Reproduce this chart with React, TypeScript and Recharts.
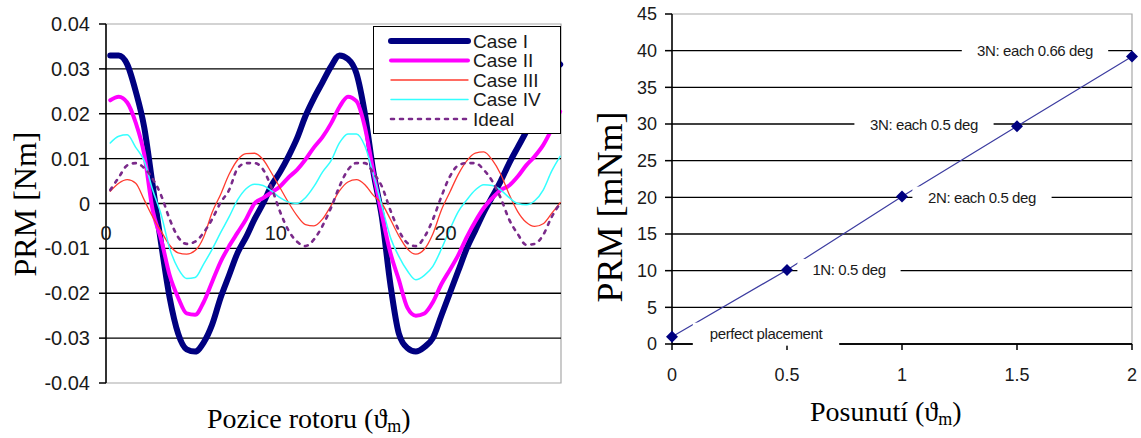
import { LabelList, Line, LineChart, ReferenceArea, ReferenceDot, ReferenceLine, XAxis, YAxis } from 'recharts'

const SANS = "'Liberation Sans', Arial, sans-serif"
const SERIF = "'Liberation Serif', 'Times New Roman', serif"

// left chart: PRM over rotor position
const ROTOR_POS = [
  0.25, 0.75, 1.25, 1.75, 2.25, 2.75, 3.25, 3.75, 4.25, 4.75,
  5.25, 5.75, 6.25, 6.75, 7.25, 7.75, 8.25, 8.75, 9.25, 9.75,
  10.25, 10.75, 11.25, 11.75, 12.25, 12.75, 13.25, 13.75, 14.25, 14.75,
  15.25, 15.75, 16.25, 16.75, 17.25, 17.75, 18.25, 18.75, 19.25, 19.75,
  20.25, 20.75, 21.25, 21.75, 22.25, 22.75, 23.25, 23.75, 24.25, 24.75,
  25.25, 25.75, 26.25, 26.75,
]

const CASE_I = [
  0.033, 0.033, 0.031, 0.025, 0.017, 0.004, -0.009, -0.021, -0.029, -0.0325,
  -0.033, -0.031, -0.027, -0.021, -0.016, -0.011, -0.0075, -0.0035, 0, 0.004,
  0.007, 0.0105, 0.0145, 0.0195, 0.0235, 0.027, 0.0305, 0.033, 0.0322, 0.029,
  0.02, 0.007, -0.003, -0.018, -0.029, -0.0322, -0.033, -0.032, -0.03, -0.025,
  -0.02, -0.015, -0.01, -0.006, -0.002, 0.0015, 0.005, 0.009, 0.0125, 0.016,
  0.02, 0.025, 0.029, 0.031,
]

const CASE_II = [
  0.023, 0.0238, 0.0225, 0.018, 0.011, -0.0015, -0.008, -0.016, -0.021, -0.0245,
  -0.0248, -0.022, -0.0175, -0.013, -0.0095, -0.0065, -0.0035, 0, 0.0012, 0.0025,
  0.0038, 0.0058, 0.0075, 0.0098, 0.0125, 0.0148, 0.0178, 0.0215, 0.0238, 0.0228,
  0.017, 0.007, -0.0025, -0.011, -0.017, -0.0232, -0.025, -0.0245, -0.022, -0.018,
  -0.0148, -0.0115, -0.0075, -0.004, -0.001, 0.0012, 0.003, 0.004, 0.006, 0.0085,
  0.0105, 0.013, 0.0165, 0.0205,
]

const CASE_III = [
  0.0027, 0.0045, 0.0053, 0.0045, 0.0008, -0.003, -0.0062, -0.0093, -0.011, -0.0113,
  -0.0105, -0.0075, -0.002, 0.002, 0.0065, 0.0097, 0.0111, 0.0112, 0.0098, 0.0068,
  0.0035, 0.0002, -0.0027, -0.0047, -0.005, -0.0035, -0.0005, 0.0028, 0.0048, 0.0053,
  0.0042, 0.0018, 0, -0.0035, -0.0072, -0.0101, -0.0113, -0.0102, -0.0068, -0.0015,
  0.0025, 0.0065, 0.0095, 0.0112, 0.0115, 0.0097, 0.0065, 0.002, -0.0018, -0.0042,
  -0.0051, -0.0045, -0.0022, 0.0002,
]

const CASE_IV = [
  0.0135, 0.015, 0.0153, 0.0125, 0.0095, 0.003, -0.0025, -0.01, -0.0145, -0.0167,
  -0.0165, -0.0135, -0.0102, -0.0065, -0.003, 0.0008, 0.0033, 0.0043, 0.004, 0.0028,
  0.0013, 0.0003, 0, 0.0013, 0.0038, 0.007, 0.0095, 0.0135, 0.0155, 0.0155,
  0.0128, 0.0065, -0.0005, -0.0075, -0.0118, -0.015, -0.017, -0.016, -0.014, -0.0102,
  -0.0058, -0.0018, 0.0008, 0.003, 0.0042, 0.004, 0.003, 0.0013, 0, -0.0003,
  0.0006, 0.003, 0.0072, 0.0105,
]

const IDEAL = [
  0.003, 0.0058, 0.0085, 0.009, 0.0079, 0.0055, 0.0018, -0.0035, -0.0075, -0.009,
  -0.0085, -0.0065, -0.0035, 0.0002, 0.003, 0.0078, 0.009, 0.009, 0.0076, 0.0035,
  -0.0018, -0.006, -0.0085, -0.0095, -0.008, -0.005, -0.001, 0.0038, 0.0075, 0.009,
  0.009, 0.0068, 0.0038, -0.0015, -0.006, -0.0088, -0.0095, -0.0075, -0.0036, 0.0015,
  0.006, 0.0085, 0.009, 0.009, 0.0075, 0.005, 0.0012, -0.0036, -0.0068, -0.0092,
  -0.009, -0.007, -0.003, 0,
]

const LEFT_Y_TICKS = [-0.04, -0.03, -0.02, -0.01, 0, 0.01, 0.02, 0.03, 0.04]
const LEFT_GRID = [-0.03, -0.02, -0.01, 0, 0.01, 0.02, 0.03]
const LEFT_X_TICKS = [0, 10, 20]
const LEFT_X_MAX = 26.8

// right chart: PRM over displacement
const SHIFT = [0, 0.5, 1, 1.5, 2]
const PRM_MNM = [1, 10.1, 20.1, 29.7, 39.2]
const POINT_LABELS = ['perfect placement', '1N: 0.5 deg', '2N: each 0.5 deg', '3N: each 0.5 deg', '3N: each 0.66 deg']
const RIGHT_Y_TICKS = [0, 5, 10, 15, 20, 25, 30, 35, 40, 45]
const RIGHT_GRID = [5, 10, 15, 20, 25, 30, 35, 40]
const RIGHT_X_TICKS = [0, 0.5, 1, 1.5, 2]

// where each data label sits relative to its point (px)
const LABEL_OFFSETS = [
  [94, -3],
  [62, 0],
  [80, 1],
  [-93, -2],
  [-97, -6],
]

const SERIES = [
  { key: 'c1', name: 'Case I', values: CASE_I },
  { key: 'c2', name: 'Case II', values: CASE_II },
  { key: 'c3', name: 'Case III', values: CASE_III },
  { key: 'c4', name: 'Case IV', values: CASE_IV },
  { key: 'ideal', name: 'Ideal', values: IDEAL },
]

const SERIES_STYLE: Record<string, { stroke: string; width: number; dash?: string }> = {
  c1: { stroke: '#000080', width: 6 },
  c2: { stroke: '#ff00ff', width: 4 },
  c3: { stroke: '#ff3b2f', width: 1.3 },
  c4: { stroke: '#33ffff', width: 1.5 },
  ideal: { stroke: '#7a2a8a', width: 2.6, dash: '3 6' },
}

const rotorData = ROTOR_POS.map((x, i) => {
  const row: Record<string, number> = { x }
  for (const s of SERIES) row[s.key] = s.values[i]
  return row
})

const shiftData = SHIFT.map((x, i) => ({ x, prm: PRM_MNM[i], label: POINT_LABELS[i] }))

function fmtLeft(v: number): string {
  return v === 0 ? '0' : v.toFixed(2)
}

function Diamond(props: any) {
  const { cx, cy } = props
  if (cx == null || cy == null) return null
  const r = 6
  return <path d={`M${cx},${cy - r}L${cx + r},${cy}L${cx},${cy + r}L${cx - r},${cy}Z`} fill="#000080" />
}

function PointLabel(props: any) {
  const vb = props.viewBox || {}
  const px = props.x ?? vb.x
  const py = props.y ?? vb.y
  const idx = props.index ?? 0
  if (px == null || py == null) return null
  const [dx, dy] = LABEL_OFFSETS[idx] || [0, 0]
  const text = String(props.value)
  const w = text.length * 7.2 + 24
  const cx = px + dx
  const cy = py + dy
  return (
    <g>
      <rect x={cx - w / 2} y={cy - 11} width={w} height={23} fill="#ffffff" />
      <text
        x={cx}
        y={cy}
        textAnchor="middle"
        dominantBaseline="central"
        fontFamily={SANS}
        fontSize={15}
        letterSpacing={-0.4}
        fill="#1a1a1a"
      >
        {text}
      </text>
    </g>
  )
}

function LegendBox() {
  return (
    <div
      style={{
        position: 'absolute',
        left: 373,
        top: 26,
        width: 186,
        height: 106,
        border: '1.5px solid #000',
        background: '#fff',
      }}
    >
      <svg width={186} height={106}>
        {SERIES.map((s, i) => {
          const st = SERIES_STYLE[s.key]
          const y = 14 + i * 19.5
          return (
            <g key={s.key}>
              <line
                x1={17}
                x2={94}
                y1={y}
                y2={y}
                stroke={st.stroke}
                strokeWidth={st.width}
                strokeDasharray={st.dash}
                strokeLinecap="round"
              />
              <text x={99} y={y} dominantBaseline="central" fontFamily={SANS} fontSize={19} fill="#1a1a1a">
                {s.name}
              </text>
            </g>
          )
        })}
      </svg>
    </div>
  )
}

function Titles() {
  return (
    <svg width={1141} height={438} style={{ position: 'absolute', left: 0, top: 0, pointerEvents: 'none' }}>
      <text
        transform="translate(36,204) rotate(-90)"
        textAnchor="middle"
        fontFamily={SERIF}
        fontSize={32}
        fill="#000"
      >
        PRM [Nm]
      </text>
      <text x={207} y={428} fontFamily={SERIF} fontSize={28} fill="#000">
        Pozice rotoru (ϑ<tspan fontSize={18} dy={4}>m</tspan>
        <tspan dy={-4}>)</tspan>
      </text>
      <text
        transform="translate(622,207) rotate(-90)"
        textAnchor="middle"
        fontFamily={SERIF}
        fontSize={36}
        fill="#000"
      >
        PRM [mNm]
      </text>
      <text x={810} y={421} fontFamily={SERIF} fontSize={28} fill="#000">
        Posunutí (ϑ<tspan fontSize={18} dy={4}>m</tspan>
        <tspan dy={-4}>)</tspan>
      </text>
    </svg>
  )
}

export default function App() {
  const tickStyle = { fill: '#1a1a1a', fontSize: 20, fontFamily: SANS }
  const tickStyleR = { fill: '#1a1a1a', fontSize: 18, fontFamily: SANS }
  return (
    <div style={{ position: 'absolute', left: 0, top: 0, width: 1141, height: 438, background: '#fff' }}>
      <Titles />

      <div style={{ position: 'absolute', left: 0, top: 0 }}>
        <LineChart width={570} height={438} data={rotorData} margin={{ top: 24, right: 9, bottom: 55, left: 0 }}>
          <XAxis type="number" dataKey="x" domain={[0, LEFT_X_MAX]} ticks={LEFT_X_TICKS} hide height={0} />
          <YAxis
            type="number"
            domain={[-0.04, 0.04]}
            ticks={LEFT_Y_TICKS}
            interval={0}
            width={106}
            tickFormatter={fmtLeft}
            tick={tickStyle}
            tickSize={7}
            tickMargin={9}
            axisLine={{ stroke: '#000', strokeWidth: 1.5 }}
            tickLine={{ stroke: '#000', strokeWidth: 1.5 }}
          />
          <ReferenceArea x1={0} x2={LEFT_X_MAX} y1={-0.04} y2={0.04} fill="none" stroke="#a8a8a8" strokeWidth={1.2} />
          {LEFT_GRID.map((v) => (
            <ReferenceLine key={v} y={v} stroke="#000" strokeWidth={1.4} />
          ))}
          {SERIES.map((s) => {
            const st = SERIES_STYLE[s.key]
            return (
              <Line
                key={s.key}
                type="monotone"
                dataKey={s.key}
                name={s.name}
                stroke={st.stroke}
                strokeWidth={st.width}
                strokeDasharray={st.dash}
                strokeLinecap="round"
                strokeLinejoin="round"
                dot={false}
                activeDot={false}
                isAnimationActive={false}
              />
            )
          })}
          {LEFT_X_TICKS.map((t) => (
            <ReferenceDot
              key={t}
              x={t}
              y={0}
              r={0}
              fill="none"
              stroke="none"
              label={{ value: String(t), position: 'bottom', offset: 22, fill: '#1a1a1a', fontSize: 20, fontFamily: SANS }}
            />
          ))}
        </LineChart>
      </div>

      <LegendBox />

      <div style={{ position: 'absolute', left: 570, top: 0 }}>
        <LineChart width={571} height={438} data={shiftData} margin={{ top: 14, right: 9, bottom: 44, left: 0 }}>
          <XAxis
            type="number"
            dataKey="x"
            domain={[0, 2]}
            ticks={RIGHT_X_TICKS}
            interval={0}
            height={50}
            tick={tickStyleR}
            tickSize={6}
            tickMargin={18}
            axisLine={{ stroke: '#000', strokeWidth: 1.5 }}
            tickLine={{ stroke: '#000', strokeWidth: 1.5 }}
          />
          <YAxis
            type="number"
            domain={[0, 45]}
            ticks={RIGHT_Y_TICKS}
            interval={0}
            width={102}
            tick={tickStyleR}
            tickSize={7}
            tickMargin={8}
            axisLine={{ stroke: '#000', strokeWidth: 1.5 }}
            tickLine={{ stroke: '#000', strokeWidth: 1.5 }}
          />
          <ReferenceArea x1={0} x2={2} y1={0} y2={45} fill="none" stroke="#a8a8a8" strokeWidth={1.2} />
          {RIGHT_GRID.map((v) => (
            <ReferenceLine key={v} y={v} stroke="#000" strokeWidth={1.4} />
          ))}
          <ReferenceLine y={0} stroke="#000" strokeWidth={1.5} />
          <Line
            type="linear"
            dataKey="prm"
            stroke="#3c3ca0"
            strokeWidth={1.2}
            dot={(p: any) => <Diamond key={p.index} {...p} />}
            activeDot={false}
            isAnimationActive={false}
          >
            <LabelList dataKey="label" content={(p: any) => <PointLabel {...p} />} />
          </Line>
        </LineChart>
      </div>
    </div>
  )
}
